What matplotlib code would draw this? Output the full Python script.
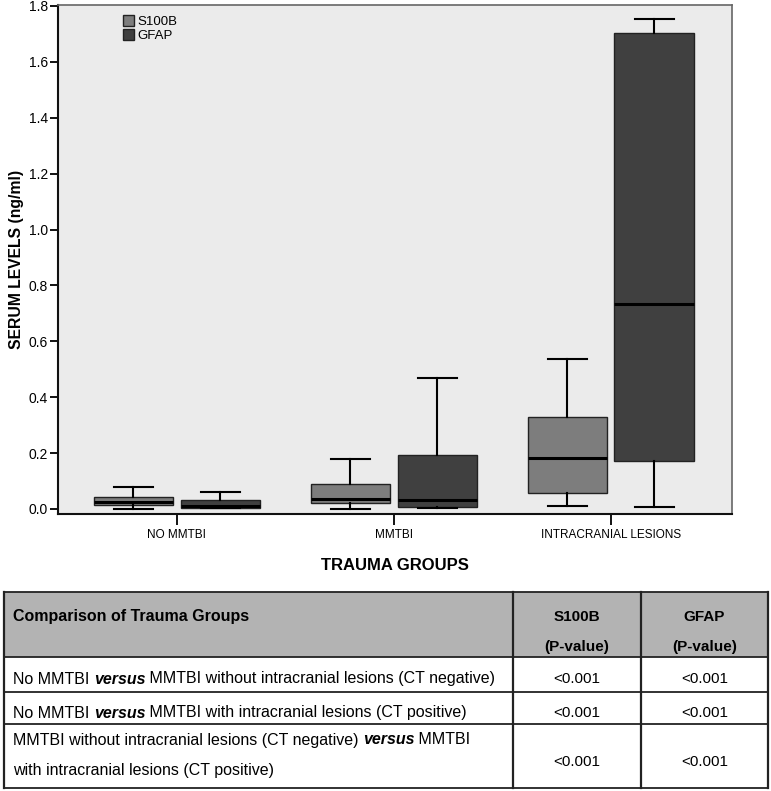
import matplotlib.pyplot as plt
from matplotlib.patches import Patch

groups = ["NO MMTBI", "MMTBI", "INTRACRANIAL LESIONS"]
markers = ["S100B", "GFAP"]

# five-number summaries (ng/ml)
s100b_low = [0.000, 0.001, 0.010]
s100b_q1 = [0.013, 0.020, 0.058]
s100b_med = [0.025, 0.037, 0.181]
s100b_q3 = [0.042, 0.089, 0.329]
s100b_high = [0.080, 0.179, 0.535]

gfap_low = [0.003, 0.004, 0.008]
gfap_q1 = [0.004, 0.006, 0.171]
gfap_med = [0.011, 0.032, 0.733]
gfap_q3 = [0.031, 0.194, 1.703]
gfap_high = [0.062, 0.470, 1.755]

table_header = ["Comparison of Trauma Groups", "S100B", "GFAP"]
table_rows = [
    ["No MMTBI ", "versus", " MMTBI without intracranial lesions (CT negative)"],
    ["No MMTBI ", "versus", " MMTBI with intracranial lesions (CT positive)"],
    ["MMTBI without intracranial lesions (CT negative) ", "versus", " MMTBI"],
]
p_s100b = ["<0.001", "<0.001", "<0.001"]
p_gfap = ["<0.001", "<0.001", "<0.001"]

colors = {"S100B": "#7d7d7d", "GFAP": "#404040"}
narrow = ["Liberation Sans Narrow", "Liberation Sans", "DejaVu Sans"]
plain = ["Liberation Sans", "DejaVu Sans"]

fig = plt.figure(figsize=(7.71, 7.91), dpi=100)
ax = fig.add_axes([0.0746, 0.3506, 0.875, 0.6431])
ax.set_facecolor("#ebebeb")


def stats(low, q1, med, q3, high):
    return [dict(whislo=a, q1=b, med=c, q3=d, whishi=e, fliers=[])
            for a, b, c, d, e in zip(low, q1, med, q3, high)]


series = {
    "S100B": stats(s100b_low, s100b_q1, s100b_med, s100b_q3, s100b_high),
    "GFAP": stats(gfap_low, gfap_q1, gfap_med, gfap_q3, gfap_high),
}
offsets = {"S100B": -0.2, "GFAP": 0.2}

for m in markers:
    pos = [i + offsets[m] for i in range(len(groups))]
    ax.bxp(series[m], positions=pos, widths=0.365, patch_artist=True,
           showfliers=False,
           boxprops=dict(facecolor=colors[m], edgecolor="#222222", linewidth=1.0),
           medianprops=dict(color="black", linewidth=2.2),
           whiskerprops=dict(color="black", linewidth=1.5),
           capprops=dict(color="black", linewidth=1.5),
           capwidths=0.18)

ax.set_xlim(-0.55, 2.56)
ax.set_ylim(-0.0168, 1.8036)
ax.set_xticks(range(len(groups)))
ax.set_xticklabels(groups, family=narrow, fontsize=8.5)
ax.set_yticks([0.0, 0.2, 0.4, 0.6, 0.8, 1.0, 1.2, 1.4, 1.6, 1.8])
ax.set_yticklabels([f"{v:.1f}" for v in ax.get_yticks()], family=plain, fontsize=10)
ax.tick_params(axis="x", length=8, width=1.3, pad=3)
ax.tick_params(axis="y", length=6, width=1.3, pad=1)
for s in ["left", "bottom"]:
    ax.spines[s].set_linewidth(1.5)
    ax.spines[s].set_color("#111111")
for s in ["top", "right"]:
    ax.spines[s].set_linewidth(1.2)
    ax.spines[s].set_color("#666666")

ax.set_ylabel("SERUM LEVELS (ng/ml)", family=plain, fontweight="bold", fontsize=11.3, labelpad=3)
ax.set_xlabel("TRAUMA GROUPS", family=narrow, fontweight="bold", fontsize=12, labelpad=12)

handles = [Patch(facecolor=colors[m], edgecolor="#222222", label=m) for m in markers]
ax.legend(handles=handles, loc="upper left", bbox_to_anchor=(0.085, 0.995), frameon=False,
          prop=dict(family=plain, size=9.5), handlelength=0.85, handleheight=0.9,
          handletextpad=0.25, labelspacing=0.05, borderaxespad=0.2)

# table drawn in pixel coordinates
tab = fig.add_axes([0, 0, 1, 1], zorder=-1)
tab.set_xlim(0, 771)
tab.set_ylim(791, 0)
tab.axis("off")

x0, x1, x2, x3 = 4, 513, 641, 768
y0, y1, y2, y3, y4 = 592, 657, 692, 724, 788
tab.fill_between([x0, x3], y0, y1, color="#b3b3b3", lw=0)
for y in [y0, y1, y2, y3, y4]:
    tab.plot([x0, x3], [y, y], color="#222222", lw=1.3)
for x in [x0, x1, x2, x3]:
    tab.plot([x, x], [y0, y4], color="#222222", lw=1.6)

tab.text(13, 617, table_header[0], family=plain, fontweight="bold", fontsize=11.5, va="center")
tab.text((x1 + x2) / 2, 617, table_header[1], family=plain, fontweight="bold", fontsize=11,
         ha="center", va="center")
tab.text((x2 + x3) / 2, 617, table_header[2], family=plain, fontweight="bold", fontsize=11,
         ha="center", va="center")
for xc in [(x1 + x2) / 2, (x2 + x3) / 2]:
    tab.text(xc, 647, "(P-value)", family=plain, fontweight="bold", fontsize=11,
             ha="center", va="center")


def row_text(y, parts, x=13):
    t = None
    for k, txt in enumerate(parts):
        style = dict(fontweight="bold", fontstyle="italic") if txt == "versus" else {}
        if t is None:
            t = tab.text(x, y, txt, family=plain, fontsize=11.5, va="center", **style)
        else:
            t = tab.annotate(txt, xycoords=t, xy=(1, 0.5), va="center", family=plain,
                             fontsize=11.5, **style)


row_y = [679, 713, 740]
for y, parts in zip(row_y, table_rows):
    row_text(y, parts)
tab.text(13, 770, "with intracranial lesions (CT positive)", family=plain, fontsize=11.5, va="center")

cell_y = [679, 713, 762]
for y, a, b in zip(cell_y, p_s100b, p_gfap):
    tab.text((x1 + x2) / 2, y, a, family=plain, fontsize=11, ha="center", va="center")
    tab.text((x2 + x3) / 2, y, b, family=plain, fontsize=11, ha="center", va="center")

fig.savefig("out.png", dpi=100)
